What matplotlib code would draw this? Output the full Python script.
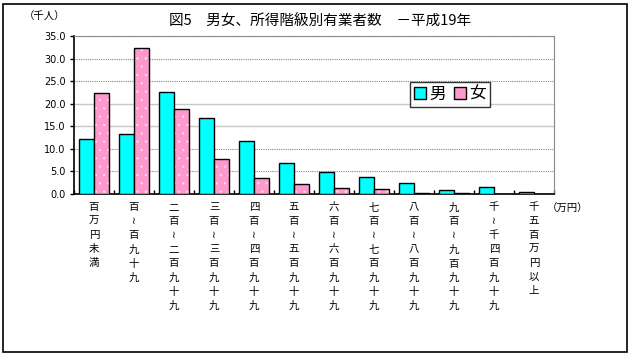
import matplotlib
matplotlib.use("Agg")
import matplotlib.pyplot as plt
import numpy as np
from matplotlib.patches import Rectangle, Patch

plt.rcParams['font.family'] = ['Noto Sans CJK JP', 'DejaVu Sans']
plt.rcParams['hatch.linewidth'] = 0.4

categories = ["百万円未満", "百～百九十九", "二百～二百九十九", "三百～三百九十九",
              "四百～四百九十九", "五百～五百九十九", "六百～六百九十九", "七百～七百九十九",
              "八百～八百九十九", "九百～九百九十九", "千～千四百九十九", "千五百万円以上"]
male = [12.1, 13.2, 22.5, 16.8, 11.7, 6.8, 4.8, 3.7, 2.4, 0.8, 1.5, 0.4]
female = [22.3, 32.3, 18.8, 7.7, 3.5, 2.2, 1.3, 1.0, 0.15, 0.15, 0.0, 0.0]
yticks = [0, 5, 10, 15, 20, 25, 30, 35]

fig = plt.figure(figsize=(6.33, 3.57), dpi=100)
fig.patch.set_facecolor('white')
fig.add_artist(Rectangle((3/633, 5/357), 624/633, 348/357, transform=fig.transFigure,
                         fill=False, edgecolor='black', linewidth=1.2))

ax = fig.add_axes([74/633, 1-194/357, 480/633, 158/357])
x = np.arange(len(categories))
w = 0.38
ax.bar(x - w/2, male, width=w, color='#00FFFF', edgecolor='black', linewidth=1.0, zorder=3)
ax.bar(x + w/2, female, width=w, color='#FF99CC', edgecolor='#FFE0F0', linewidth=0, hatch='..', zorder=3)
ax.bar(x + w/2, female, width=w, facecolor='none', edgecolor='black', linewidth=1.0, zorder=4)

ax.set_xlim(-0.5, len(categories) - 0.5)
ax.set_ylim(0, 35)
ax.set_yticks(yticks)
ax.set_yticklabels([f"{v:.1f}" for v in yticks], fontsize=7, family=['DejaVu Sans'])
for v in yticks[1:]:
    if v in (15, 20):
        ax.axhline(v, color='#c8c8c8', linewidth=1.0, zorder=1)
    else:
        ax.axhline(v, color='#888888', linewidth=0.8, linestyle=(0, (1, 1)), zorder=1)

ax.set_xticks(x)
ax.set_xticklabels(["\n".join(c.replace("～", "≀")) for c in categories], fontsize=7.5,
                   linespacing=1.5, va='top')
ax.tick_params(axis='x', length=0, pad=6)
ax.set_xticks(np.arange(len(categories) + 1) - 0.5, minor=True)
ax.tick_params(axis='x', which='minor', direction='in', length=3, width=1)
ax.tick_params(axis='y', direction='out', length=3, width=1, pad=3)

for s in ['top', 'right']:
    ax.spines[s].set_color('#888888')
    ax.spines[s].set_linestyle((0, (1, 1)))
    ax.spines[s].set_linewidth(0.8)
for s in ['left', 'bottom']:
    ax.spines[s].set_color('black')
    ax.spines[s].set_linewidth(1.2)

handles = [Patch(facecolor='#00FFFF', edgecolor='black'), Patch(facecolor='#FF99CC', edgecolor='black')]
leg = ax.legend(handles, ['男', '女'], loc='center', bbox_to_anchor=((450-74)/480, (194-94.5)/158),
                ncol=2, fontsize=12, frameon=True, fancybox=False, edgecolor='black',
                handlelength=0.7, handleheight=0.7, handletextpad=0.2, columnspacing=0.5,
                borderpad=0.25, borderaxespad=0)
leg.get_frame().set_linewidth(1.0)

fig.text(320/633, 1-22/357, "図5　男女、所得階級別有業者数　－平成19年", ha='center', va='center', fontsize=10.5)
fig.text(45/633, 1-17/357, "（千人）", ha='center', va='center', fontsize=7.5)
fig.text(568/633, 1-209/357, "（万円）", ha='center', va='center', fontsize=7.5)

fig.savefig("out.png", dpi=100, facecolor='white')
